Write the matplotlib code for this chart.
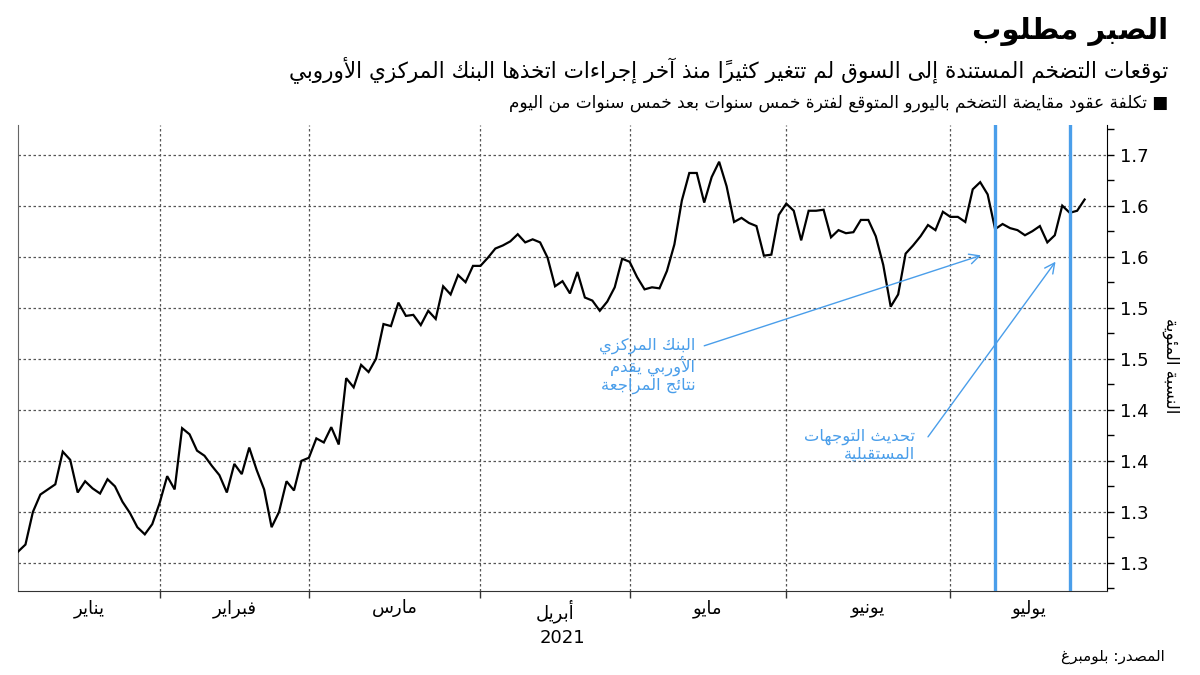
import matplotlib
matplotlib.use("Agg")
import matplotlib.pyplot as plt
import numpy as np
import pandas as pd
from decimal import Decimal, ROUND_HALF_UP
from matplotlib.ticker import FixedLocator, FuncFormatter, NullFormatter

# ---------------- data ----------------
values = [
    1.261, 1.268, 1.300, 1.317, 1.322, 1.327, 1.359, 1.351, 1.319, 1.330,
    1.323, 1.318, 1.332, 1.325, 1.310, 1.299, 1.285, 1.278, 1.288, 1.309,
    1.335, 1.322, 1.382, 1.376, 1.360, 1.355, 1.345, 1.336, 1.319, 1.347,
    1.337, 1.363, 1.341, 1.322, 1.285, 1.300, 1.330, 1.321, 1.350, 1.353,
    1.372, 1.368, 1.383, 1.366, 1.431, 1.422, 1.444, 1.437, 1.450, 1.484,
    1.482, 1.505, 1.492, 1.493, 1.483, 1.497, 1.489, 1.521, 1.513, 1.532,
    1.525, 1.541, 1.541, 1.549, 1.558, 1.561, 1.565, 1.572, 1.564, 1.567,
    1.564, 1.549, 1.521, 1.526, 1.514, 1.535, 1.510, 1.507, 1.497, 1.506,
    1.520, 1.548, 1.545, 1.530, 1.518, 1.520, 1.519, 1.536, 1.562, 1.605,
    1.632, 1.632, 1.603, 1.628, 1.643, 1.619, 1.584, 1.588, 1.583, 1.580,
    1.551, 1.552, 1.591, 1.602, 1.595, 1.566, 1.595, 1.595, 1.596, 1.569,
    1.576, 1.573, 1.574, 1.586, 1.586, 1.570, 1.542, 1.501, 1.513, 1.553,
    1.561, 1.570, 1.581, 1.576, 1.594, 1.589, 1.589, 1.584, 1.616, 1.623,
    1.611, 1.577, 1.582, 1.578, 1.576, 1.571, 1.575, 1.580, 1.564, 1.571,
    1.600, 1.593, 1.595, 1.606,
]
start_date = "2021-01-05"
end_date = "2021-07-27"
market_holidays = ["2021-04-02", "2021-04-05"]
month_names = ["يناير", "فبراير", "مارس", "أبريل", "مايو", "يونيو", "يوليو"]
year_label = "2021"
event_dates = ["2021-07-09", "2021-07-23"]
y_ticks = [1.25, 1.30, 1.35, 1.40, 1.45, 1.50, 1.55, 1.60, 1.65]

title = "الصبر مطلوب"
subtitle = "توقعات التضخم المستندة إلى السوق لم تتغير كثيراً منذ آخر إجراءات اتخذها البنك المركزي الأوروبي"
legend_label = "■ تكلفة عقود مقايضة التضخم باليورو المتوقع لفترة خمس سنوات بعد خمس سنوات من اليوم"
y_label = "النسبة المئوية"
note_review = "البنك المركزي\nالأوربي يقدم\nنتائج المراجعة"
note_guidance = "تحديث التوجهات\nالمستقبلية"
source = "المصدر: بلومبرغ"

# ---------------- Arabic shaping (matplotlib has no complex text layout) ----------------
_DUAL = {0x0626: 0xFE89, 0x0628: 0xFE8F, 0x062A: 0xFE95, 0x062B: 0xFE99, 0x062C: 0xFE9D,
         0x062D: 0xFEA1, 0x062E: 0xFEA5, 0x0633: 0xFEB1, 0x0634: 0xFEB5, 0x0635: 0xFEB9,
         0x0636: 0xFEBD, 0x0637: 0xFEC1, 0x0638: 0xFEC5, 0x0639: 0xFEC9, 0x063A: 0xFECD,
         0x0641: 0xFED1, 0x0642: 0xFED5, 0x0643: 0xFED9, 0x0644: 0xFEDD, 0x0645: 0xFEE1,
         0x0646: 0xFEE5, 0x0647: 0xFEE9, 0x064A: 0xFEF1}
_RIGHT = {0x0622: 0xFE81, 0x0623: 0xFE83, 0x0624: 0xFE85, 0x0625: 0xFE87, 0x0627: 0xFE8D,
          0x0629: 0xFE93, 0x062F: 0xFEA9, 0x0630: 0xFEAB, 0x0631: 0xFEAD, 0x0632: 0xFEAF,
          0x0648: 0xFEED, 0x0649: 0xFEEF}
_NONJ = {0x0621: 0xFE80}
_LAMALEF = {"\u0622": 0xFEF5, "\u0623": 0xFEF7, "\u0625": 0xFEF9, "\u0627": 0xFEFB}
_MARKS = set(chr(c) for c in range(0x064B, 0x0653)) | {"\u0670"}


def _jtype(u):
    if isinstance(u, tuple):
        return "R"
    o = ord(u)
    if o == 0x0640:
        return "C"
    if o in _DUAL:
        return "D"
    if o in _RIGHT:
        return "R"
    if o in _NONJ:
        return "U"
    return None


def _shape_line(s):
    units = []
    i = 0
    while i < len(s):
        c = s[i]
        if c in _MARKS and units:
            units[-1][1] += c
            i += 1
            continue
        if c == "\u0644" and i + 1 < len(s) and s[i + 1] in _LAMALEF:
            units.append([("LA", s[i + 1]), ""])
            i += 2
            continue
        units.append([c, ""])
        i += 1
    clusters = []
    for k, (b, m) in enumerate(units):
        t = _jtype(b)
        pt = _jtype(units[k - 1][0]) if k > 0 else None
        nt = _jtype(units[k + 1][0]) if k + 1 < len(units) else None
        jp = t in ("R", "D", "C") and pt in ("D", "C")
        jn = t in ("D", "C") and nt in ("R", "D", "C")
        if isinstance(b, tuple):
            g = chr(_LAMALEF[b[1]] + (1 if jp else 0))
        elif t == "D":
            base = _DUAL[ord(b)]
            g = chr(base + (3 if (jp and jn) else 1 if jp else 2 if jn else 0))
        elif t == "R":
            g = chr(_RIGHT[ord(b)] + (1 if jp else 0))
        elif t == "U":
            g = chr(_NONJ[ord(b)])
        else:
            g = b
        clusters.append((g + m, b))
    # visual order: reverse, keeping runs of LTR characters in order
    runs = []
    for g, b in clusters:
        ltr = isinstance(b, str) and b.isascii() and b.isalnum()
        if ltr and runs and runs[-1][0]:
            runs[-1][1].append(g)
        else:
            runs.append([ltr, [g]])
    out = []
    for ltr, gs in reversed(runs):
        out.extend(gs if ltr else reversed(gs))
    return "".join(out)


def ar(s):
    return "\n".join(_shape_line(line) for line in s.split("\n"))


# ---------------- figure ----------------
plt.rcParams["font.family"] = ["DejaVu Sans"]
BLUE = "#4a9eea"
GRID = "#555555"

dates = pd.bdate_range(start_date, end_date)
dates = dates[~dates.isin(pd.to_datetime(market_holidays))]
x = np.arange(len(dates))
months = dates.to_period("M")
month_starts = [int(np.argmax(months == p)) for p in months.unique()]
x_max = 146.0

fig = plt.figure(figsize=(12, 6.75), dpi=100)
ax = fig.add_axes([18 / 1200, 84 / 675, 1089 / 1200, 466 / 675])

ax.plot(x, values, color="black", lw=1.6, zorder=3, solid_joinstyle="miter")

for d in event_dates:
    xi = int(np.where(dates == pd.Timestamp(d))[0][0])
    ax.axvline(xi, color=BLUE, lw=2.4, zorder=4)

ax.set_xlim(0, x_max)
ax.set_ylim(1.2225, 1.679)

# y axis on the right
ax.yaxis.tick_right()
ax.yaxis.set_label_position("right")
ax.yaxis.set_major_locator(FixedLocator(y_ticks))
ax.yaxis.set_minor_locator(FixedLocator([t + 0.025 for t in y_ticks] + [y_ticks[0] - 0.025]))


def _fmt(v, pos):
    return str(Decimal(str(round(v, 3))).quantize(Decimal("0.1"), rounding=ROUND_HALF_UP))


ax.yaxis.set_major_formatter(FuncFormatter(_fmt))
ax.tick_params(axis="y", which="major", direction="out", length=5, width=1, labelsize=13, pad=4, colors="black")
ax.tick_params(axis="y", which="minor", direction="out", length=5, width=1)
ax.set_ylabel(ar(y_label), rotation=270, fontsize=12, va="center")
ax.yaxis.set_label_coords((1171 - 18) / 1089, (591 - 366) / 466)

# x axis: month boundaries and centered labels
bounds = month_starts[1:]
centers = []
edges = [0] + bounds + [x_max]
for a, b in zip(edges[:-1], edges[1:]):
    centers.append((a + b) / 2)
ax.xaxis.set_major_locator(FixedLocator(bounds))
ax.xaxis.set_major_formatter(NullFormatter())
ax.xaxis.set_minor_locator(FixedLocator(centers))
ax.xaxis.set_minor_formatter(FuncFormatter(lambda v, p: ar(month_names[p]) if p < len(month_names) else ""))
ax.tick_params(axis="x", which="major", direction="out", length=5, width=1, color="#333333")
ax.tick_params(axis="x", which="minor", length=0, labelsize=13, pad=6)
ax.text(0.5, -0.101, year_label, transform=ax.transAxes, ha="center", va="center", fontsize=13)

# grid
for t in y_ticks:
    ax.axhline(t, color=GRID, lw=0.9, ls=(0, (2, 2)), zorder=1)
for b in bounds:
    ax.axvline(b, color=GRID, lw=0.9, ls=(0, (2, 2)), zorder=1)

ax.spines["top"].set_visible(False)
ax.spines["left"].set_color("#666666")
ax.spines["bottom"].set_color("#333333")
ax.spines["right"].set_color("black")

# annotations
ax.text(90.8, 1.4706, ar(note_review), color=BLUE, fontsize=11.8, ha="right", va="top",
        multialignment="right", linespacing=1.12)
ax.annotate("", xy=(129.1, 1.5513), xytext=(92.0, 1.4627),
            arrowprops=dict(arrowstyle="->", color=BLUE, lw=1.0, mutation_scale=18, shrinkA=0, shrinkB=0))
ax.text(120.3, 1.3814, ar(note_guidance), color=BLUE, fontsize=11.8, ha="right", va="top",
        multialignment="right", linespacing=1.12)
ax.annotate("", xy=(139.1, 1.5451), xytext=(122.0, 1.3735),
            arrowprops=dict(arrowstyle="->", color=BLUE, lw=1.0, mutation_scale=18, shrinkA=0, shrinkB=0))

# titles
fig.text(1168 / 1200, 1 - 32 / 675, ar(title), fontsize=21, fontweight="bold", ha="right", va="center")
fig.text(1168 / 1200, 1 - 70 / 675, ar(subtitle), fontsize=15.5, ha="right", va="center")
fig.text(1168 / 1200, 1 - 103 / 675, ar(legend_label), fontsize=12.2, ha="right", va="center")
fig.text(1165 / 1200, 1 - 657 / 675, ar(source), fontsize=11, ha="right", va="center")

fig.savefig("out.png", dpi=100)
